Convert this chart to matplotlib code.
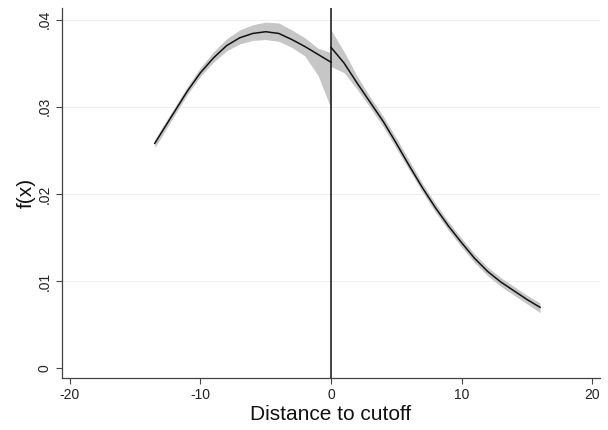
import numpy as np
from matplotlib import pyplot as plt

plt.rcParams['font.family'] = ['Liberation Sans', 'DejaVu Sans']
plt.rcParams['axes.unicode_minus'] = False

# density estimate left of cutoff
x_left = [-13.5, -13, -12, -11, -10, -9, -8, -7, -6, -5, -4, -3, -2, -1, 0]
f_left = [0.0258, 0.0270, 0.0294, 0.0318, 0.0339, 0.0356, 0.0370, 0.0379,
          0.0384, 0.0386, 0.0384, 0.0377, 0.0369, 0.0360, 0.0351]
lo_left = [0.0253, 0.0265, 0.0290, 0.0314, 0.0335, 0.0351, 0.0364, 0.0372,
           0.0376, 0.0377, 0.0375, 0.0368, 0.0358, 0.0336, 0.0298]
hi_left = [0.0262, 0.0275, 0.0299, 0.0323, 0.0345, 0.0363, 0.0378, 0.0388,
           0.0394, 0.0397, 0.0396, 0.0388, 0.0379, 0.0367, 0.0362]

# density estimate right of cutoff
x_right = [0, 1, 2, 3, 4, 5, 6, 7, 8, 9, 10, 11, 12, 13, 14, 15, 16]
f_right = [0.0368, 0.0350, 0.0327, 0.0305, 0.0283, 0.0258, 0.0232, 0.0207,
           0.0184, 0.0163, 0.0144, 0.0126, 0.0111, 0.0099, 0.0089, 0.0079, 0.0070]
lo_right = [0.0346, 0.0339, 0.0320, 0.0299, 0.0277, 0.0252, 0.0227, 0.0202,
            0.0179, 0.0158, 0.0139, 0.0121, 0.0106, 0.0094, 0.0084, 0.0074, 0.0064]
hi_right = [0.0388, 0.0363, 0.0335, 0.0311, 0.0289, 0.0264, 0.0238, 0.0212,
            0.0189, 0.0168, 0.0149, 0.0131, 0.0116, 0.0104, 0.0094, 0.0084, 0.0075]

xticks = [-20, -10, 0, 10, 20]
yticks = [0, 0.01, 0.02, 0.03, 0.04]
ytick_labels = ["0", ".01", ".02", ".03", ".04"]

fig = plt.figure(figsize=(6.08, 4.30), dpi=100)
ax = fig.add_axes([0.102, 0.121, 0.885, 0.860])

for y in yticks[1:]:
    ax.axhline(y, color='#efefef', lw=0.8, zorder=0)

ax.fill_between(x_left, lo_left, hi_left, color='#c6c6c6', lw=0, zorder=1)
ax.fill_between(x_right, lo_right, hi_right, color='#c6c6c6', lw=0, zorder=1)
ax.plot(x_left, f_left, color='#111111', lw=1.1, zorder=2)
ax.plot(x_right, f_right, color='#111111', lw=1.1, zorder=2)
ax.axvline(0, color='#111111', lw=1.1, zorder=3)

ax.set_xlim(-20.6, 20.6)
ax.set_ylim(-0.0011, 0.0413)
ax.set_xticks(xticks)
ax.set_yticks(yticks)
ax.set_yticklabels(ytick_labels, rotation=90, va='center')
ax.tick_params(axis='both', direction='out', length=4, width=0.8,
               color='#444444', labelsize=10, labelcolor='#222222')

for side in ['top', 'right']:
    ax.spines[side].set_visible(False)
for side in ['left', 'bottom']:
    ax.spines[side].set_color('#444444')
    ax.spines[side].set_linewidth(0.9)

ax.set_xlabel("Distance to cutoff", fontsize=15, color='#111111', labelpad=2)
ax.set_ylabel("f(x)", fontsize=15, color='#111111', labelpad=1)

fig.savefig("out.png", dpi=100)
